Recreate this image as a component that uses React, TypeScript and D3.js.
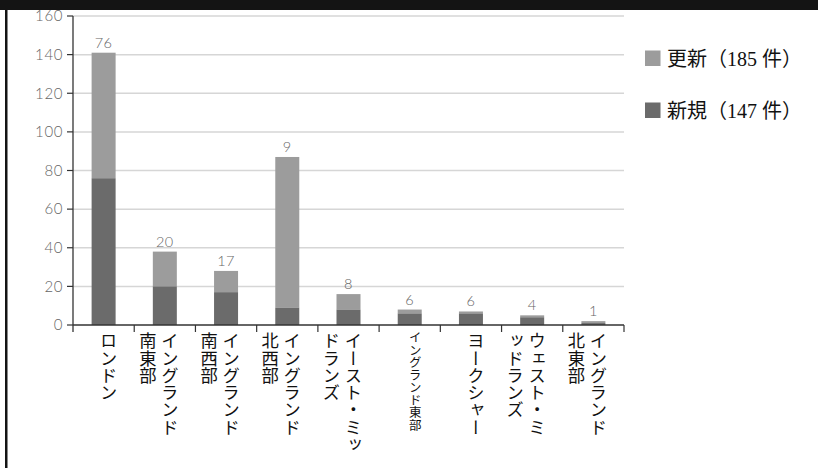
import React from "react";
import * as d3 from "d3";

const categories = [
  "ロンドン",
  "イングランド南東部",
  "イングランド南西部",
  "イングランド北西部",
  "イースト・ミッドランズ",
  "イングランド東部",
  "ヨークシャー",
  "ウェスト・ミッドランズ",
  "イングランド北東部",
];
// label columns for vertical text (right column first)
const labelColumns: string[][] = [
  ["ロンドン"],
  ["イングランド", "南東部"],
  ["イングランド", "南西部"],
  ["イングランド", "北西部"],
  ["イースト・ミッ", "ドランズ"],
  ["イングランド東部"],
  ["ヨークシャー"],
  ["ウェスト・ミ", "ッドランズ"],
  ["イングランド", "北東部"],
];
const smallLabel = [false, false, false, false, false, true, false, false, false];
const newValues = [76, 20, 17, 9, 8, 6, 6, 4, 1];
const renewValues = [65, 18, 11, 78, 8, 2, 1, 1, 1];
const yTicks = [0, 20, 40, 60, 80, 100, 120, 140, 160];
const legendLabels = ["更新（185 件）", "新規（147 件）"];

const W = 818;
const H = 468;
const LIGHT = "#9c9c9c";
const DARK = "#6b6b6b";

export default function App() {
  const x = d3.scaleBand<string>().domain(categories).range([73, 624]).paddingInner(0).paddingOuter(0);
  const y = d3.scaleLinear().domain([0, 160]).range([325, 16]);
  const bw = 24;
  const numFont = "Lato, 'Open Sans', sans-serif";
  const jpFont = "'Liberation Serif', 'Noto Sans CJK JP', serif";
  return (
    <svg width={W} height={H} style={{ position: "absolute", left: 0, top: 0, background: "#fff" }}>
      <rect x={0} y={0} width={W} height={H} fill="#fff" />
      <rect x={0} y={0} width={W} height={10} fill="#141414" />
      <rect x={5} y={0} width={2.5} height={H} fill="#141414" />
      {/* gridlines */}
      {yTicks.filter((t) => t > 0).map((t) => (
        <line key={t} x1={73} x2={624} y1={y(t)} y2={y(t)} stroke="#d6d6d6" strokeWidth={1.5} />
      ))}
      {/* y ticks */}
      {yTicks.map((t) => (
        <g key={t}>
          <line x1={67} x2={73} y1={y(t)} y2={y(t)} stroke="#333" strokeWidth={1.2} />
          <text x={63} y={y(t)} dy="0.35em" textAnchor="end" fontFamily={numFont} fontWeight={300} fontSize={15} letterSpacing={0.6} fill="#666">
            {t}
          </text>
        </g>
      ))}
      {/* bars */}
      {categories.map((c, i) => {
        const cx = (x(c) as number) + x.bandwidth() / 2;
        const yNew = y(newValues[i]);
        const yTot = y(newValues[i] + renewValues[i]);
        return (
          <g key={c}>
            <rect x={cx - bw / 2} y={yTot} width={bw} height={yNew - yTot} fill={LIGHT} />
            <rect x={cx - bw / 2} y={yNew} width={bw} height={y(0) - yNew} fill={DARK} />
            <text x={cx} y={yTot - 5} textAnchor="middle" fontFamily={numFont} fontWeight={300} fontSize={14.5} letterSpacing={0.5} fill="#666">
              {newValues[i]}
            </text>
          </g>
        );
      })}
      {/* axes */}
      <line x1={73} x2={73} y1={16} y2={332} stroke="#333" strokeWidth={1.3} />
      <line x1={73} x2={624} y1={y(0)} y2={y(0)} stroke="#333" strokeWidth={1.3} />
      {categories.map((c) => {
        const x0 = x(c) as number;
        return <line key={c} x1={x0 + x.bandwidth()} x2={x0 + x.bandwidth()} y1={y(0)} y2={332} stroke="#333" strokeWidth={1.2} />;
      })}
      {/* x labels */}
      {categories.map((c, i) => {
        const cx = (x(c) as number) + x.bandwidth() / 2;
        const small = smallLabel[i];
        return (
          <g key={c}>
            {labelColumns[i].map((col, j) => (
              <text
                key={j}
                x={cx + (small ? 4 : 3) - j * 22}
                y={small ? 331 : 332}
                style={{ writingMode: "vertical-rl" } as any}
                fontFamily={jpFont}
                fontSize={small ? 12.5 : 17.3}
                fill="#111"
              >
                {col}
              </text>
            ))}
          </g>
        );
      })}
      {/* legend */}
      {legendLabels.map((l, i) => (
        <g key={l}>
          <rect x={645} y={50.5 + i * 52} width={15.5} height={15.5} fill={i === 0 ? LIGHT : DARK} />
          <text x={667} y={58.5 + i * 52} dy="0.35em" fontFamily={jpFont} fontSize={20} fill="#111">
            {l}
          </text>
        </g>
      ))}
    </svg>
  );
}
